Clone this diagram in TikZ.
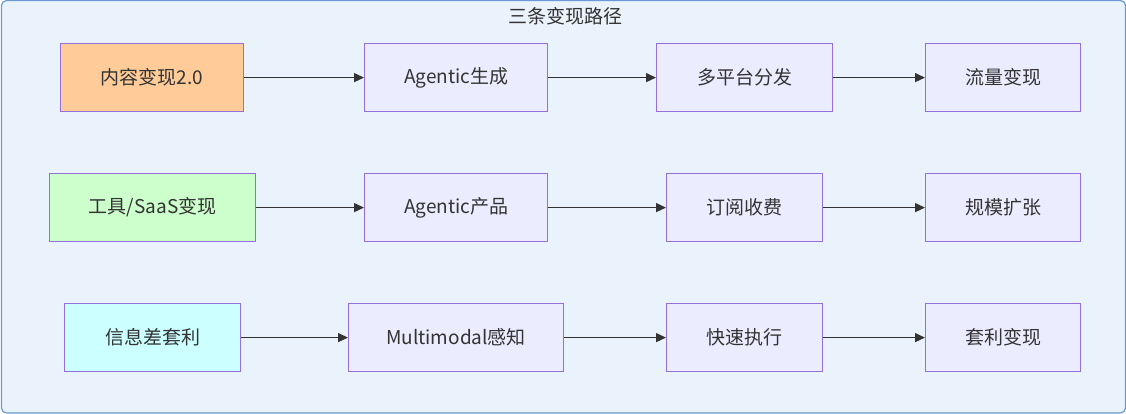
\documentclass[tikz,border=0pt]{standalone}
\usepackage{fontspec}
\setmainfont{Noto Sans CJK SC}
\usetikzlibrary{arrows.meta}
\definecolor{framefill}{HTML}{EAF2FC}
\definecolor{frameline}{HTML}{6A9AD0}
\definecolor{nodefill}{HTML}{ECECFF}
\definecolor{nodeline}{HTML}{9370DB}
\definecolor{txt}{HTML}{333333}
\definecolor{orangefill}{HTML}{FFCC99}
\definecolor{greenfill}{HTML}{CCFFCC}
\definecolor{cyanfill}{HTML}{CCFFFF}
\tikzset{
  box/.style={draw=nodeline, fill=nodefill, line width=1.2pt, text=txt,
    font=\fontsize{19}{22}\selectfont, inner sep=0pt, anchor=north west},
  link/.style={draw=txt, line width=1.3pt, -{Triangle[length=10pt,width=9pt]}},
}
\newcommand{\mybox}[7]{% name, x1, y1, x2, y2, fill, text
  \node[box, fill=#6, minimum width=#4-#2, minimum height=#5-#3] (#1) at (#2,#3) {#7};}
\begin{document}
\begin{tikzpicture}[x=1pt,y=-1pt]
\useasboundingbox (0,0) rectangle (1126,414);
\draw[frameline, fill=framefill, line width=1.2pt, rounded corners=5pt] (1.5,0.5) rectangle (1125.5,413);
\node[text=txt, font=\fontsize{19}{22}\selectfont] (title) at (565,16) {三条变现路径};
% row 1
\mybox{a1}{60}{43}{243}{111}{orangefill}{内容变现2.0}
\mybox{a2}{364}{43}{547}{111}{nodefill}{Agentic生成}
\mybox{a3}{656}{43}{832}{111}{nodefill}{多平台分发}
\mybox{a4}{925}{43}{1080}{111}{nodefill}{流量变现}
% row 2
\mybox{b1}{49}{173}{255}{241}{greenfill}{工具/SaaS变现}
\mybox{b2}{364}{173}{547}{241}{nodefill}{Agentic产品}
\mybox{b3}{666}{173}{822}{241}{nodefill}{订阅收费}
\mybox{b4}{925}{173}{1080}{241}{nodefill}{规模扩张}
% row 3
\mybox{c1}{64}{303}{240}{371}{cyanfill}{信息差套利}
\mybox{c2}{348}{303}{563}{371}{nodefill}{Multimodal感知}
\mybox{c3}{666}{303}{822}{371}{nodefill}{快速执行}
\mybox{c4}{925}{303}{1080}{371}{nodefill}{套利变现}
\foreach \r in {a,b,c}{
  \draw[link] (\r1.east) -- (\r2.west);
  \draw[link] (\r2.east) -- (\r3.west);
  \draw[link] (\r3.east) -- (\r4.west);
}
\end{tikzpicture}
\end{document}
